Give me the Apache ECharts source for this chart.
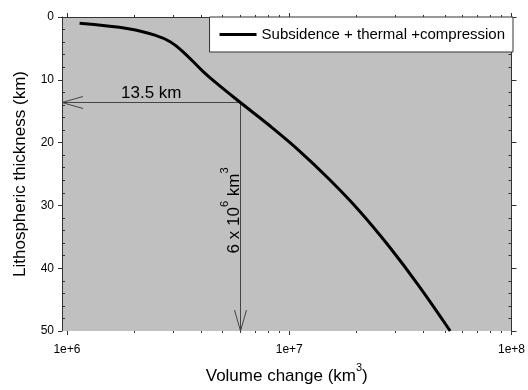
<!DOCTYPE html>
<html>
<head>
<meta charset="utf-8">
<script src="https://cdn.jsdelivr.net/npm/echarts@6/dist/echarts.min.js"></script>
<style>
  html, body { margin: 0; padding: 0; background: #fff; }
  #chart { width: 528px; height: 390px; }
</style>
</head>
<body>
<div id="chart"></div>
<script>
// curve: volume change (km3) vs lithospheric thickness (km)
const volume = [1.14e6, 1.92e6, 2.52e6, 2.9e6, 3.32e6, 4.09e6, 4.69e6, 5.97e6, 8.1e6, 1.11e7, 1.51e7, 2.06e7, 2.81e7, 3.83e7, 5.3e7];
const thickness = [1.0, 1.9, 2.96, 3.9, 5.5, 8.65, 10.5, 13.5, 17.2, 21.3, 25.8, 30.8, 36.5, 42.8, 50];

// x ticks of the log axis
const xMajorTicks = [1e6, 1e7, 1e8];
const xMinorTicks = [2e6, 3e6, 4e6, 5e6, 6e6, 7e6, 8e6, 9e6, 2e7, 3e7, 4e7, 5e7, 6e7, 7e7, 8e7, 9e7];

// read-off marker: 13.5 km at 6 x 10^6 km3
const markerPoint = [6e6, 13.5];
const markerTextDepth = 30.8;

const seriesName = "Subsidence + thermal +compression";
const X_MIN = 0.95e6;
const X_MAX = 1e8;
const Y_MIN = 0;
const Y_MAX = 50;

const FONT = "'Liberation Sans', Arial, sans-serif";
const AXIS_COLOR = "#333";

const supRich = {
  a: { fontSize: 17, fontFamily: FONT, color: "#000", lineHeight: 23, verticalAlign: "bottom" },
  s: { fontSize: 11, fontFamily: FONT, color: "#000", lineHeight: 23, verticalAlign: "top" },
};

function tickRender(major) {
  return function (params, api) {
    const v = api.value(0);
    const top = api.coord([v, Y_MIN]);
    const bot = api.coord([v, Y_MAX]);
    const len = major ? 4 : 2;
    const x = Math.round(top[0]) + 0.5;
    return {
      type: "group",
      children: [
        { type: "line", shape: { x1: x, y1: top[1], x2: x, y2: top[1] - len }, style: { stroke: AXIS_COLOR, lineWidth: 1 } },
        { type: "line", shape: { x1: x, y1: bot[1], x2: x, y2: bot[1] + len }, style: { stroke: AXIS_COLOR, lineWidth: 1 } },
      ],
    };
  };
}

function markerRender(params, api) {
  const p = api.coord(markerPoint);
  const l = api.coord([X_MIN, markerPoint[1]]);
  const b = api.coord([markerPoint[0], Y_MAX]);
  const t = api.coord([markerPoint[0], markerTextDepth]);
  const head = 21;
  const half = 6;
  const px = Math.round(p[0]) + 0.5;
  const py = Math.round(p[1]) + 0.5;
  const lineStyle = { stroke: "#444", lineWidth: 1, fill: null };
  return {
    type: "group",
    children: [
      { type: "polyline", shape: { points: [[l[0], py], [px, py], [px, b[1]]] }, style: lineStyle },
      { type: "polyline", shape: { points: [[l[0] + head, py - half], [l[0], py], [l[0] + head, py + half]] }, style: lineStyle },
      { type: "polyline", shape: { points: [[px - half, b[1] - head], [px, b[1]], [px + half, b[1] - head]] }, style: lineStyle },
      {
        type: "text",
        x: (l[0] + px) / 2,
        y: py - 1,
        style: { text: "13.5 km", font: "17px " + FONT, fill: "#000", textAlign: "center", textVerticalAlign: "bottom" },
      },
      {
        type: "text",
        x: px + 2,
        y: t[1],
        rotation: Math.PI / 2,
        style: {
          text: "{a|6 x 10}{s|6}{a| km}{s|3}",
          rich: supRich,
          textAlign: "center",
          textVerticalAlign: "bottom",
        },
      },
    ],
  };
}

const chart = echarts.init(document.getElementById("chart"), null, { renderer: "canvas" });

chart.setOption({
  animation: false,
  textStyle: { fontFamily: FONT },
  grid: { left: 62, right: 15, top: 17, bottom: 57, show: true, backgroundColor: "#c0c0c0", borderWidth: 0 },
  legend: {
    data: [seriesName],
    right: 15,
    top: 17,
    padding: [10, 8, 10, 10],
    icon: "rect",
    itemWidth: 37,
    itemHeight: 3,
    backgroundColor: "#fff",
    borderColor: AXIS_COLOR,
    borderWidth: 1,
    borderRadius: 0,
    itemStyle: { color: "#000" },
    textStyle: { fontSize: 15, color: "#000", fontFamily: FONT, lineHeight: 15 },
  },
  xAxis: [
    {
      type: "log",
      min: X_MIN,
      max: X_MAX,
      position: "bottom",
      axisLine: { show: true, lineStyle: { color: AXIS_COLOR } },
      axisTick: { show: false },
      splitLine: { show: false },
      axisLabel: {
        fontSize: 12,
        color: "#000",
        margin: 13,
        formatter: (v) => {
          const e = Math.log10(v);
          return Math.abs(e - Math.round(e)) < 1e-6 ? "1e+" + Math.round(e) : "";
        },
      },
      name: "{a|Volume change (km}{s|3}{a|)}",
      nameLocation: "middle",
      nameGap: 31,
      nameTextStyle: { rich: supRich },
    },
    {
      type: "log",
      min: X_MIN,
      max: X_MAX,
      position: "top",
      axisLine: { show: true, lineStyle: { color: AXIS_COLOR } },
      axisTick: { show: false },
      axisLabel: { show: false },
      splitLine: { show: false },
    },
  ],
  yAxis: [
    {
      type: "value",
      inverse: true,
      min: Y_MIN,
      max: Y_MAX,
      interval: 10,
      position: "left",
      axisLine: { show: true, lineStyle: { color: AXIS_COLOR } },
      axisTick: { show: true, length: 4, lineStyle: { color: AXIS_COLOR } },
      minorTick: { show: true, splitNumber: 5, length: -3, lineStyle: { color: AXIS_COLOR } },
      splitLine: { show: false },
      axisLabel: { fontSize: 12, color: "#000", margin: 8 },
      name: "Lithospheric thickness (km)",
      nameLocation: "middle",
      nameGap: 33,
      nameTextStyle: { fontSize: 17, color: "#000", fontFamily: FONT },
    },
    {
      type: "value",
      inverse: true,
      min: Y_MIN,
      max: Y_MAX,
      interval: 10,
      position: "right",
      axisLine: { show: true, lineStyle: { color: AXIS_COLOR } },
      axisTick: { show: true, length: 5, lineStyle: { color: AXIS_COLOR } },
      minorTick: { show: true, splitNumber: 5, length: -3, lineStyle: { color: AXIS_COLOR } },
      splitLine: { show: false },
      axisLabel: { show: false },
    },
  ],
  series: [
    {
      name: "xMajorTicks",
      type: "custom",
      silent: true,
      z: 4,
      renderItem: tickRender(true),
      data: xMajorTicks.map((v) => [v, Y_MIN]),
    },
    {
      name: "xMinorTicks",
      type: "custom",
      silent: true,
      z: 4,
      renderItem: tickRender(false),
      data: xMinorTicks.map((v) => [v, Y_MIN]),
    },
    {
      name: "marker",
      type: "custom",
      silent: true,
      z: 2,
      renderItem: markerRender,
      data: [markerPoint],
    },
    {
      name: seriesName,
      type: "line",
      z: 3,
      symbol: "none",
      smooth: 0.4,
      lineStyle: { color: "#000", width: 3 },
      itemStyle: { color: "#000" },
      data: volume.map((v, i) => [v, thickness[i]]),
    },
  ],
});
</script>
</body>
</html>
